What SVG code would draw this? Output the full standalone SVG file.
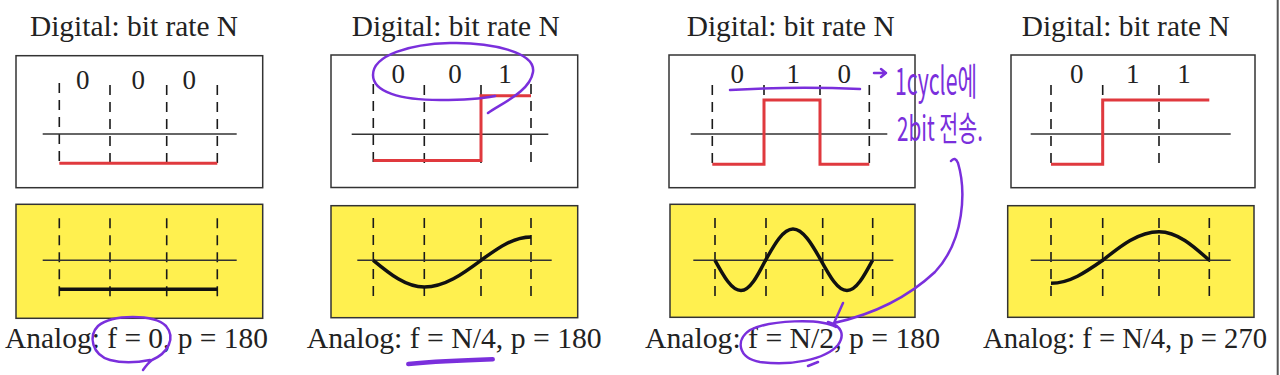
<svg xmlns="http://www.w3.org/2000/svg" width="1280" height="375" viewBox="0 0 1280 375">
<style>
.bg{fill:#fff}
.box{fill:#fff;stroke:#333;stroke-width:1.5}
.ybox{fill:#fff04f;stroke:#333;stroke-width:1.5}
.dash{stroke:#1a1a1a;stroke-width:1.6;stroke-dasharray:10 7;fill:none}
.axis{stroke:#333;stroke-width:1.5;fill:none}
.dig{stroke:#e0393e;stroke-width:3;fill:none;stroke-linejoin:miter}
.ana{stroke:#111;stroke-width:3.5;fill:none;stroke-linecap:butt}
.t{font-family:"Liberation Serif","Times New Roman",serif;font-size:29px;fill:#222}
.b{font-family:"Liberation Serif","Times New Roman",serif;font-size:30px;fill:#222}
.d{font-family:"Liberation Serif","Times New Roman",serif;font-size:27px;fill:#222;text-anchor:middle}
.pen{stroke:#7a2fdc;stroke-width:2.5;fill:none;stroke-linecap:round;stroke-linejoin:round}
.hand{font-family:"Noto Sans CJK KR","Noto Sans",sans-serif;fill:#7a2fdc}
</style>
<rect class="bg" x="0" y="0" width="1280" height="375"/>

<g id="panel1">
  <text class="t" x="30" y="35.5" textLength="208" lengthAdjust="spacingAndGlyphs">Digital: bit rate N</text>
  <rect class="box" x="16" y="55.7" width="246.7" height="132"/>
  <text class="d" x="82.7" y="89">0</text>
  <text class="d" x="138.3" y="89">0</text>
  <text class="d" x="189.3" y="89">0</text>
  <path class="dash" d="M59.3 83V168M110 85V168M166.7 85V168M217.3 85V168"/>
  <path class="axis" d="M42.7 134H236.7"/>
  <path class="dig" d="M59.3 163.3H217.3"/>
  <rect class="ybox" x="16" y="204.3" width="246.7" height="114"/>
  <path class="dash" d="M59.3 218.3V303.3M110 218.3V303.3M166.7 218.3V303.3M217.3 218.3V303.3"/>
  <path class="axis" d="M42.7 260.3H236.7"/>
  <path class="ana" d="M59.3 289.3H217.3"/>
  <text class="b" x="5" y="348.3" textLength="263" lengthAdjust="spacingAndGlyphs">Analog: f = 0, p = 180</text>
</g>

<g id="panel2">
  <text class="t" x="351.7" y="35.5" textLength="208" lengthAdjust="spacingAndGlyphs">Digital: bit rate N</text>
  <rect class="box" x="331" y="55" width="246.7" height="132.5"/>
  <text class="d" x="398.3" y="83.3">0</text>
  <text class="d" x="455" y="83.3">0</text>
  <text class="d" x="505" y="83.3">1</text>
  <path class="dash" d="M373.3 84V168M424.3 85V168M481 85V168M531 84V168"/>
  <path class="axis" d="M351.7 134.3H548.3"/>
  <path class="dig" d="M373.3 160.5H481V95.8H531"/>
  <rect class="ybox" x="331" y="205.7" width="246.7" height="112"/>
  <path class="dash" d="M373.3 218V303M424.3 218V303M481 218V303M531 218V303"/>
  <path class="axis" d="M357.3 260.3H551.7"/>
  <path class="ana" d="M373.3 260.3C389.9 274 405.8 287 424.3 287C444.8 287 462.5 274 481 260.3C497.3 248.4 512.9 237 531 237"/>
  <text class="b" x="306.7" y="348.3" textLength="295" lengthAdjust="spacingAndGlyphs">Analog: f = N/4, p = 180</text>
</g>

<g id="panel3">
  <text class="t" x="686.7" y="35.5" textLength="208" lengthAdjust="spacingAndGlyphs">Digital: bit rate N</text>
  <rect class="box" x="669" y="55" width="246" height="132.7"/>
  <text class="d" x="737.3" y="83.3">0</text>
  <text class="d" x="793.3" y="83.3">1</text>
  <text class="d" x="844.3" y="83.3">0</text>
  <path class="dash" d="M712.3 85V167M764 85V167M820 85V167M869.3 85V167"/>
  <path class="axis" d="M690.7 134H887.3"/>
  <path class="dig" d="M712.3 164.3H764V100H820V164.3H869.3"/>
  <rect class="ybox" x="670" y="204.3" width="245" height="113"/>
  <path class="dash" d="M715 218V303M766 218V303M822.7 218V303M872.7 218V303"/>
  <path class="axis" d="M693.3 260.3H893.3"/>
  <path class="ana" d="M715 260.3C723.5 275.8 731.6 290.5 741 290.5C749.9 290.5 757.5 275.8 765.5 260.3C774.5 244.3 783 229 793 229C803.1 229 811.9 244.3 821 260.3C829.5 275.8 837.6 290.5 847 290.5C856.2 290.5 864.2 275.8 872.5 260.3"/>
  <text class="b" x="645" y="348.3" textLength="295" lengthAdjust="spacingAndGlyphs">Analog: f = N/2, p = 180</text>
</g>

<g id="panel4">
  <text class="t" x="1021.7" y="35.5" textLength="208" lengthAdjust="spacingAndGlyphs">Digital: bit rate N</text>
  <rect class="box" x="1011" y="55" width="244" height="132.7"/>
  <text class="d" x="1076.7" y="83.3">0</text>
  <text class="d" x="1132.7" y="83.3">1</text>
  <text class="d" x="1184" y="83.3">1</text>
  <path class="dash" d="M1051 85V167.7M1102.7 85V167.7M1159 85V167.7"/>
  <path class="axis" d="M1030.7 134H1230.7"/>
  <path class="dig" d="M1051 164.3H1102.7V100H1209.3"/>
  <rect class="ybox" x="1007.7" y="205.7" width="246.3" height="111.6"/>
  <path class="dash" d="M1051 218V302.7M1102.7 218V302.7M1159 218V302.7M1209.3 218V302.7"/>
  <path class="axis" d="M1030.7 260.3H1230.7"/>
  <path class="ana" d="M1051 283.3C1069.7 283.3 1085.8 272.1 1102.7 260.3C1121.1 245.6 1138.6 231.7 1159 231.7C1177.2 231.7 1192.9 245.6 1209.3 260.3"/>
  <text class="b" x="983" y="348.3" textLength="284" lengthAdjust="spacingAndGlyphs">Analog: f = N/4, p = 270</text>
</g>

<g id="annotations">
  <path class="pen" d="M143 370Q148 363 152 360C168 353 176 338 166 326C154 314 112 314 98 326C88 336 92 355 110 360C125 364 140 362 150 360"/>
  <path class="pen" d="M488 113C500 104 530 92 533 72C536 52 490 42 450 43C410 44 373 55 373 75C373 92 400 100 440 100C465 100 485 98 495 96"/>
  <path class="pen" style="stroke-width:4.5" d="M408.3 364C440 361 470 360 492.7 359.3"/>
  <path class="pen" d="M730 90Q795 86 860 89"/>
  <path class="pen" d="M874 73L886 73M881 69L886 73L881 77"/>
  <text class="hand" x="895" y="95" font-size="38" textLength="82" lengthAdjust="spacingAndGlyphs">1cycle에</text>
  <text class="hand" x="897" y="141" font-size="34" textLength="86" lengthAdjust="spacingAndGlyphs">2bit 전송.</text>
  <path class="pen" d="M836 327C820 318 770 320 750 330C735 340 738 358 760 362C790 366 825 360 838 345C845 335 842 326 828 322M808 366L818 362"/>
</g>

<g id="connectors">
  <path class="pen" d="M951 161Q955 156 958 163C966 190 965 240 935 272C905 300 870 315 834 323M843 303L834 323"/>
</g>

<path d="M1277.7 0V375" stroke="#555" stroke-width="2"/>
</svg>
